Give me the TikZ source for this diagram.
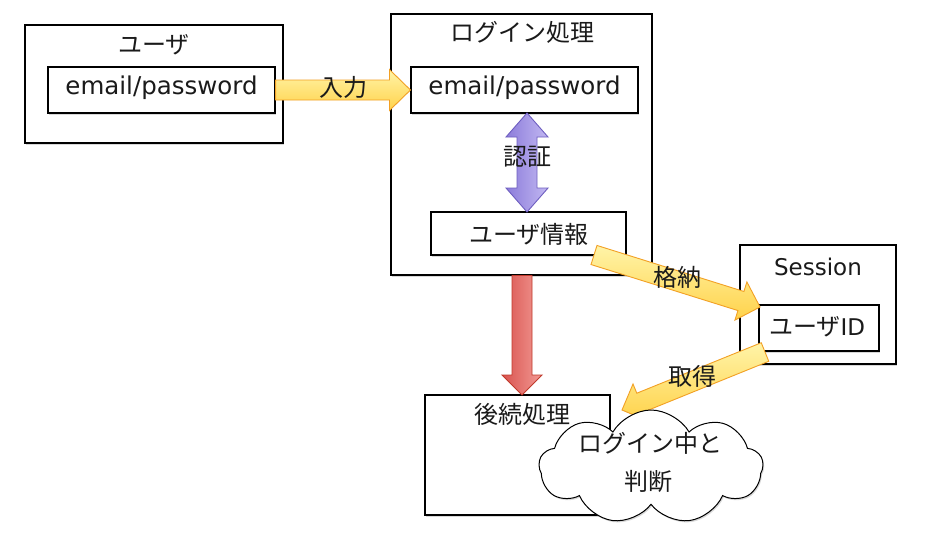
\documentclass[tikz,border=0pt]{standalone}
\usepackage{fontspec}
\setmainfont{DejaVu Sans}
\newfontfamily\jp{Noto Sans CJK JP}
\usetikzlibrary{shapes.symbols,shadows,calc}
\definecolor{yfillA}{HTML}{FFF4A8}
\definecolor{yfillB}{HTML}{FFD24A}
\definecolor{yedge}{HTML}{F2A024}
\definecolor{pfillA}{HTML}{8C7CDA}
\definecolor{pfillB}{HTML}{C2B8F2}
\definecolor{pedge}{HTML}{6E5EC0}
\definecolor{rfillA}{HTML}{D9534F}
\definecolor{rfillB}{HTML}{F29A94}
\definecolor{redge}{HTML}{C0392B}
\definecolor{ink}{HTML}{1A1A1A}
\newcommand\fatarr[5]{% start, end, head length, head half width, style
  \coordinate (fa-h) at ($(#2)!#3!(#1)$);
  \draw[#5] ($(#1)!10pt!90:(#2)$) -- ($(fa-h)!10pt!90:(#2)$) -- ($(fa-h)!#4!90:(#2)$) -- (#2)
    -- ($(fa-h)!#4!-90:(#2)$) -- ($(fa-h)!10pt!-90:(#2)$) -- ($(#1)!10pt!-90:(#2)$) -- cycle;}
\newcommand\dblarr[4]{% a, b, head length, style
  \coordinate (da-a) at ($(#1)!#3!(#2)$);
  \coordinate (da-b) at ($(#2)!#3!(#1)$);
  \draw[#4] (#1) -- ($(da-a)!21pt!90:(#2)$) -- ($(da-a)!10pt!90:(#2)$) -- ($(da-b)!10pt!90:(#2)$)
    -- ($(da-b)!21pt!90:(#2)$) -- (#2) -- ($(da-b)!21pt!-90:(#2)$) -- ($(da-b)!10pt!-90:(#2)$)
    -- ($(da-a)!10pt!-90:(#2)$) -- ($(da-a)!21pt!-90:(#2)$) -- cycle;}
\begin{document}
\begin{tikzpicture}[x=1pt,y=-1pt,
  box/.style={draw=black, line width=1.1pt, fill=white, inner sep=0pt,
    drop shadow={shadow xshift=1.2pt, shadow yshift=-1.6pt, opacity=0.3}},
  lbl/.style={font=\fontsize{24}{28}\selectfont\jp, text=ink, inner sep=0pt},
  lat/.style={font=\fontsize{23}{28}\selectfont, text=ink, inner sep=0pt},
  latbig/.style={font=\fontsize{24.5}{28}\selectfont, text=ink, inner sep=0pt},
  yarrow/.style={draw=yedge, line width=0.9pt, top color=yfillA, bottom color=yfillB},
  parrow/.style={draw=pedge, line width=0.9pt, left color=pfillA, right color=pfillB},
  rarrow/.style={draw=redge, line width=0.9pt, left color=rfillA, right color=rfillB}]
\useasboundingbox[fill=white] (0,0) rectangle (925,557);

% user
\node[box, minimum width=258pt, minimum height=118pt] (user) at (154,84) {};
\node[lbl] (usert) at (154,45) {ユーザ};
\node[box, minimum width=227pt, minimum height=46pt] (uemail) at (161.5,90) {};
\node[latbig] (uemailt) at (161.5,88) {email/password};

% login
\node[box, minimum width=261pt, minimum height=261pt] (login) at (521.5,144.5) {};
\node[lbl] (logint) at (522,32) {ログイン処理};
\node[box, minimum width=227pt, minimum height=46pt] (lemail) at (524.5,90) {};
\node[latbig] (lemailt) at (524.5,88) {email/password};
\node[box, minimum width=195pt, minimum height=43pt] (uinfo) at (528.5,233.5) {};
\node[lbl] (uinfot) at (529,234) {ユーザ情報};

% session
\node[box, minimum width=156pt, minimum height=119pt] (session) at (818,304.5) {};
\node[lat] (sessiont) at (818,267) {Session};
\node[box, minimum width=120pt, minimum height=46pt] (uid) at (819,328) {};
\node[lbl] (uidt) at (817,327) {ユーザ{\fontspec{DejaVu Sans}\fontsize{23}{28}\selectfont ID}};

% after
\node[box, minimum width=185pt, minimum height=120pt] (after) at (517.5,455) {};
\node[lbl] (aftert) at (522,414) {後続処理};

% arrows
\fatarr{uemail.east}{lemail.west}{21pt}{20.5pt}{yarrow}
\node[lbl] (nyuryoku) at (343,87) {入力};

\coordinate (auth-a) at (527,113);
\coordinate (auth-b) at (527,212);
\dblarr{auth-a}{auth-b}{24pt}{parrow}
\node[lbl] (ninsho) at (527,157) {認証};

\coordinate (red-a) at (522,275.5);
\coordinate (red-b) at (522,395);
\fatarr{red-a}{red-b}{20pt}{20pt}{rarrow}

\coordinate (kak-a) at (594,255);
\coordinate (kak-b) at (760,307);
\fatarr{kak-a}{kak-b}{20pt}{20pt}{yarrow}
\node[lbl] (kakuno) at (677,277) {格納};

\coordinate (shu-a) at (765,352);
\coordinate (shu-b) at (622,410);
\fatarr{shu-a}{shu-b}{20pt}{20pt}{yarrow}
\node[lbl] (shutoku) at (692,376) {取得};

% cloud
\node[cloud, cloud puffs=9, cloud puff arc=120, draw=black, line width=1pt, fill=white,
  minimum width=224pt, minimum height=114pt, inner sep=0pt,
  drop shadow={shadow xshift=1.2pt, shadow yshift=-1.6pt, opacity=0.3}] (cloud) at (651,467) {};
\node[lbl] (cloudt1) at (650,443) {ログイン中と};
\node[lbl] (cloudt2) at (648,481) {判断};
\end{tikzpicture}
\end{document}
